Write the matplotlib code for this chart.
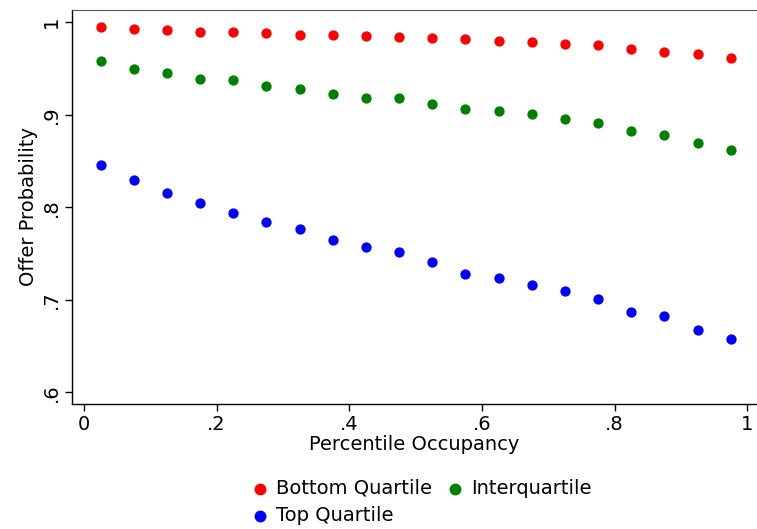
import numpy as np
import matplotlib
matplotlib.use('Agg')
import matplotlib.pyplot as plt

# percentile occupancy bins
occupancy = [0.025, 0.075, 0.125, 0.175, 0.225, 0.275, 0.325, 0.375, 0.425, 0.475,
             0.525, 0.575, 0.625, 0.675, 0.725, 0.775, 0.825, 0.875, 0.925, 0.975]

bottom_q = [0.9952, 0.9928, 0.9917, 0.9898, 0.9898, 0.9888, 0.9866, 0.9859, 0.9852, 0.9841,
            0.9827, 0.9816, 0.9801, 0.9787, 0.9762, 0.9751, 0.9708, 0.9682, 0.9661, 0.9614]
inter_q = [0.9582, 0.9495, 0.9449, 0.9384, 0.9373, 0.9315, 0.9276, 0.9222, 0.9182, 0.9178,
           0.9120, 0.9063, 0.9041, 0.9009, 0.8955, 0.8915, 0.8825, 0.8782, 0.8698, 0.8616]
top_q = [0.8461, 0.8292, 0.8151, 0.8043, 0.7942, 0.7844, 0.7762, 0.7643, 0.7574, 0.7520,
         0.7409, 0.7279, 0.7239, 0.7157, 0.7098, 0.7009, 0.6865, 0.6828, 0.6677, 0.6580]

xticks = [0, 0.2, 0.4, 0.6, 0.8, 1.0]
xticklabels = ['0', '.2', '.4', '.6', '.8', '1']
yticks = [0.6, 0.7, 0.8, 0.9, 1.0]
yticklabels = ['.6', '.7', '.8', '.9', '1']

fig = plt.figure(figsize=(7.57, 5.29), dpi=100)
ax = fig.add_axes([72/757, 1 - 404/529, 1 - 72/757, 394/529])

ms = 55
h_bot = ax.scatter(occupancy, bottom_q, s=ms, color='#ff0000', linewidths=0, label='Bottom Quartile')
h_int = ax.scatter(occupancy, inter_q, s=ms, color='#008000', linewidths=0, label='Interquartile')
h_top = ax.scatter(occupancy, top_q, s=ms, color='#0000ff', linewidths=0, label='Top Quartile')

ax.set_xlim(-0.0181, 1.0146)
ax.set_ylim(0.5874, 1.0133)
ax.set_xticks(xticks)
ax.set_xticklabels(xticklabels)
ax.set_yticks(yticks)
ax.set_yticklabels(yticklabels, rotation=90, va='center')
ax.tick_params(labelsize=14, length=5, width=1, color='black', pad=3)

ax.spines['right'].set_visible(False)
ax.spines['top'].set_color('#555555')
for s in ['left', 'bottom']:
    ax.spines[s].set_color('black')
    ax.spines[s].set_linewidth(1)

ax.set_xlabel('Percentile Occupancy', fontsize=14, labelpad=1)
ax.set_ylabel('Offer Probability', fontsize=14, labelpad=3)

# ncol=2 fills column-wise, so order gives Bottom/Inter on first row
fig.legend([h_bot, h_top, h_int], ['Bottom Quartile', 'Top Quartile', 'Interquartile'],
           ncol=2, loc='center', bbox_to_anchor=(420/757, 1 - 502/529), frameon=False,
           fontsize=14, handletextpad=0.2, columnspacing=0.6, labelspacing=0.45,
           handlelength=1.2, markerscale=1.15, borderpad=0)

fig.savefig('out.png', dpi=100)
